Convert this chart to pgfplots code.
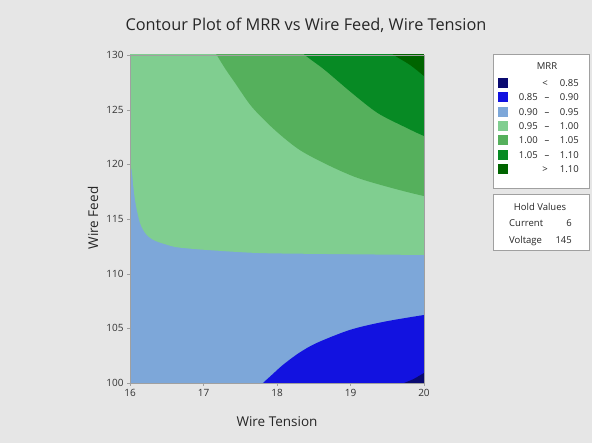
\documentclass[border=0pt]{standalone}
\usepackage{pgfplots}
\pgfplotsset{compat=1.18}
\usetikzlibrary{backgrounds}
\usepackage{fontspec}
\setmainfont{Open Sans}
\definecolor{bg}{HTML}{E6E6E6}
\definecolor{cA}{HTML}{0A0A70}
\definecolor{cB}{HTML}{1212E0}
\definecolor{cC}{HTML}{7DA7D9}
\definecolor{cD}{HTML}{80CE90}
\definecolor{cE}{HTML}{55B05C}
\definecolor{cF}{HTML}{078A24}
\definecolor{cG}{HTML}{006400}
\definecolor{frame}{HTML}{A0A0A0}
\begin{document}
\begin{tikzpicture}
\begin{axis}[name=ax, at={(0,0)}, anchor=south west, width=294pt, height=328pt, scale only axis,
  xmin=16, xmax=20, ymin=100, ymax=130,
  xtick={16,17,18,19,20}, ytick={100,105,110,115,120,125,130},
  tick align=outside, tick pos=left, major tick length=3pt,
  axis line style={draw=frame}, tick style={draw=frame},
  ticklabel style={font=\fontsize{10}{12}\selectfont, text=black!80},
  /pgf/number format/assume math mode=true,
  axis on top]
% 0.90-0.95 base
\addplot[fill=cC, draw=none] coordinates {(15,99) (21,99) (21,131) (15,131)} -- cycle;
% 0.95-1.00
\addplot[fill=cD, draw=none, smooth, tension=0.5] coordinates {
(15.98,122.5) (16.0,120.1) (16.023,119.48) (16.045,118.0) (16.068,116.74) (16.10,115.6) (16.136,114.63) (16.18,114.0) (16.227,113.54) (16.30,113.15) (16.381,112.90) (16.5,112.65) (16.612,112.44) (16.8,112.30) (17.061,112.16) (17.741,111.89) (18.653,111.80) (20,111.71) (20.5,111.69)
(21,131) (15.5,131)} -- cycle;
% 1.00-1.05
\addplot[fill=cE, draw=none, smooth, tension=0.5] coordinates {
(17.06,131.3) (17.18,130) (17.30,128.7) (17.43,127.44) (17.66,125.24) (17.97,123.14) (18.31,121.31) (18.72,119.85) (19.10,118.75) (19.56,117.84) (20,117.10) (20.4,116.6) (21,131.5)} -- cycle;
% 1.05-1.10
\addplot[fill=cF, draw=none, smooth, tension=0.5] coordinates {
(18.25,131) (18.38,130) (18.65,128.63) (19.02,126.52) (19.37,124.69) (19.74,123.41) (20,122.59) (20.3,121.8) (21,131.5)} -- cycle;
% >1.10
\addplot[fill=cG, draw=none, smooth, tension=0.5] coordinates {
(19.45,130.8) (19.59,130) (19.81,129.09) (20,128.08) (20.2,127.0) (21,131.5)} -- cycle;
% 0.85-0.90
\addplot[fill=cB, draw=none, smooth, tension=0.5] coordinates {
(17.7,99.2) (17.81,100) (17.94,100.8) (18.08,101.65) (18.30,102.75) (18.54,103.66) (18.99,104.85) (19.44,105.58) (20,106.22) (20.4,106.6) (21,99)} -- cycle;
% <0.85
\addplot[fill=cA, draw=none, smooth, tension=0.5] coordinates {
(19.6,99.6) (19.73,100) (19.86,100.37) (20,100.91) (20.2,101.6) (21,99)} -- cycle;
\end{axis}
\begin{scope}[x=1pt, y=1pt, shift={(ax.south west)}, shift={(-130,-60)}]
\begin{scope}[on background layer]
\fill[bg] (0,0) rectangle (592,443);
\end{scope}
% titles
\node[font=\fontsize{16.3}{19}\selectfont, text=black!85] at (306,418) {Contour Plot of MRR vs Wire Feed, Wire Tension};
\node[font=\fontsize{13.5}{16}\selectfont, text=black!85] at (277,21) {Wire Tension};
\node[font=\fontsize{13.5}{16}\selectfont, text=black!85, rotate=90] at (93,225) {Wire Feed};
% legend boxes
\draw[frame, fill=white] (493,255) rectangle (589,389);
\draw[frame, fill=white] (493,193) rectangle (589,249);
\begin{scope}[every node/.style={font=\fontsize{9.5}{11}\selectfont, text=black!85, inner sep=0pt}]
\node[anchor=base] at (547,373) {MRR};
\foreach \y/\c in {360/cA,346/cB,331/cC,317/cD,303/cE,288/cF,274/cG}{
  \fill[\c] (498,\y-5) rectangle (508,\y+5);
}
\foreach \y/\a/\b in {346/0.85/0.90,331/0.90/0.95,317/0.95/1.00,303/1.00/1.05,288/1.05/1.10}{
  \node[anchor=base east] at (538,\y-3.5) {\a};
  \node[anchor=base] at (547,\y-3.5) {–};
  \node[anchor=base east] at (579,\y-3.5) {\b};
}
\node[anchor=base] at (545,356.5) {<}; \node[anchor=base east] at (579,356.5) {0.85};
\node[anchor=base] at (545,270.5) {>}; \node[anchor=base east] at (579,270.5) {1.10};
\node[anchor=base] at (540,232.5) {Hold Values};
\node[anchor=base west] at (509,216.5) {Current}; \node[anchor=base east] at (572,216.5) {6};
\node[anchor=base west] at (509,199.5) {Voltage}; \node[anchor=base east] at (572,199.5) {145};
\end{scope}
\end{scope}
\end{tikzpicture}
\end{document}
